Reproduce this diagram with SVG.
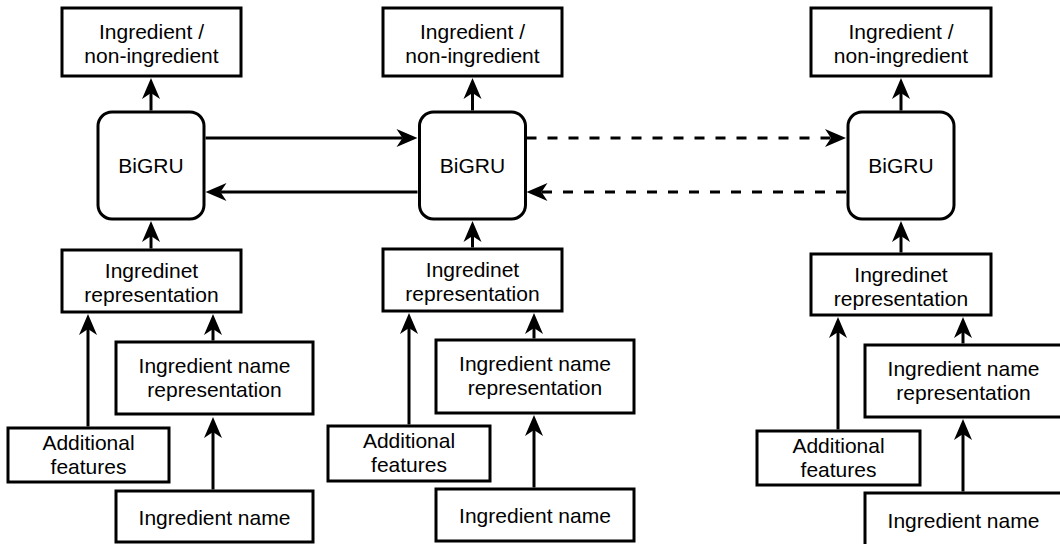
<svg xmlns="http://www.w3.org/2000/svg" width="1060" height="544" viewBox="0 0 1060 544">
<style>
.box{fill:#fff;stroke:#000;stroke-width:3}
.t{font-family:"Liberation Sans",Arial,Helvetica,sans-serif;font-size:21px;fill:#000;text-anchor:middle}
.c{fill:none;stroke:#000;stroke-width:3}
.d{stroke-dasharray:10 11}
</style>
<defs>
<marker id="arr" markerUnits="userSpaceOnUse" viewBox="-7 -10 23 20" refX="0" refY="0" markerWidth="23" markerHeight="20" orient="auto">
<path d="M15,0 L-6,-9 L0,0 L-6,9 Z" fill="#000"/>
</marker>
</defs>
<rect width="1060" height="544" fill="#fff"/>
<g id="connectors">
<path class="c" d="M151,110.5 V93" marker-end="url(#arr)"/>
<path class="c" d="M151,248.5 V236" marker-end="url(#arr)"/>
<path class="c" d="M88,426.5 V329" marker-end="url(#arr)"/>
<path class="c" d="M213,340.5 V329" marker-end="url(#arr)"/>
<path class="c" d="M213,489.5 V432" marker-end="url(#arr)"/>
<path class="c" d="M205.5,138 H402.5" marker-end="url(#arr)"/>
<path class="c" d="M417.5,192 H220.5" marker-end="url(#arr)"/>
<path class="c" d="M472.5,110.5 V93" marker-end="url(#arr)"/>
<path class="c" d="M472.5,247.5 V236" marker-end="url(#arr)"/>
<path class="c" d="M409,424.5 V328" marker-end="url(#arr)"/>
<path class="c" d="M534,338.5 V328" marker-end="url(#arr)"/>
<path class="c" d="M534,487.5 V430" marker-end="url(#arr)"/>
<path class="c d" d="M526.5,138 H831" marker-end="url(#arr)"/>
<path class="c d" d="M846,192 H541.5" marker-end="url(#arr)"/>
<path class="c" d="M901,110.5 V93" marker-end="url(#arr)"/>
<path class="c" d="M901,252.5 V236" marker-end="url(#arr)"/>
<path class="c" d="M838,429.5 V332" marker-end="url(#arr)"/>
<path class="c" d="M963,343.5 V332" marker-end="url(#arr)"/>
<path class="c" d="M963,491.5 V434" marker-end="url(#arr)"/>
</g>
<g id="out1"><rect class="box" x="62" y="8" width="179" height="68"/><text class="t" x="151.5" y="39">Ingredient /</text><text class="t" x="151.5" y="63">non-ingredient</text></g>
<g id="bigru1"><rect class="box" x="98" y="112" width="106" height="107" rx="14"/><text class="t" x="151" y="173">BiGRU</text></g>
<g id="rep1"><rect class="box" x="62" y="250" width="179" height="62"/><text class="t" x="151.5" y="278">Ingredinet</text><text class="t" x="151.5" y="302">representation</text></g>
<g id="namerep1"><rect class="box" x="116" y="342" width="197" height="72"/><text class="t" x="214.5" y="373">Ingredient name</text><text class="t" x="214.5" y="397">representation</text></g>
<g id="af1"><rect class="box" x="8" y="428" width="161" height="54"/><text class="t" x="88.5" y="450">Additional</text><text class="t" x="88.5" y="474">features</text></g>
<g id="name1"><rect class="box" x="116" y="491" width="197" height="51"/><text class="t" x="214.5" y="525">Ingredient name</text></g>

<g id="out2"><rect class="box" x="383" y="8" width="179" height="68"/><text class="t" x="472.5" y="39">Ingredient /</text><text class="t" x="472.5" y="63">non-ingredient</text></g>
<g id="bigru2"><rect class="box" x="419.5" y="112" width="106" height="107" rx="14"/><text class="t" x="472.5" y="173">BiGRU</text></g>
<g id="rep2"><rect class="box" x="383" y="249" width="179" height="62"/><text class="t" x="472.5" y="277">Ingredinet</text><text class="t" x="472.5" y="301">representation</text></g>
<g id="namerep2"><rect class="box" x="436" y="340" width="198" height="73"/><text class="t" x="535" y="371">Ingredient name</text><text class="t" x="535" y="395">representation</text></g>
<g id="af2"><rect class="box" x="328" y="426" width="162" height="55"/><text class="t" x="409" y="448">Additional</text><text class="t" x="409" y="472">features</text></g>
<g id="name2"><rect class="box" x="436" y="489" width="198" height="52"/><text class="t" x="535" y="523">Ingredient name</text></g>

<g id="out3"><rect class="box" x="811" y="8" width="180" height="68"/><text class="t" x="901" y="39">Ingredient /</text><text class="t" x="901" y="63">non-ingredient</text></g>
<g id="bigru3"><rect class="box" x="848" y="112" width="106" height="107" rx="14"/><text class="t" x="901" y="173">BiGRU</text></g>
<g id="rep3"><rect class="box" x="811" y="254" width="180" height="61"/><text class="t" x="901" y="282">Ingredinet</text><text class="t" x="901" y="306">representation</text></g>
<g id="namerep3"><rect class="box" x="865" y="345" width="197" height="72"/><text class="t" x="963.5" y="376">Ingredient name</text><text class="t" x="963.5" y="400">representation</text></g>
<g id="af3"><rect class="box" x="757" y="431" width="163" height="54"/><text class="t" x="838.5" y="453">Additional</text><text class="t" x="838.5" y="477">features</text></g>
<g id="name3"><rect class="box" x="865" y="493" width="197" height="56"/><text class="t" x="963.5" y="528">Ingredient name</text></g>
</svg>
